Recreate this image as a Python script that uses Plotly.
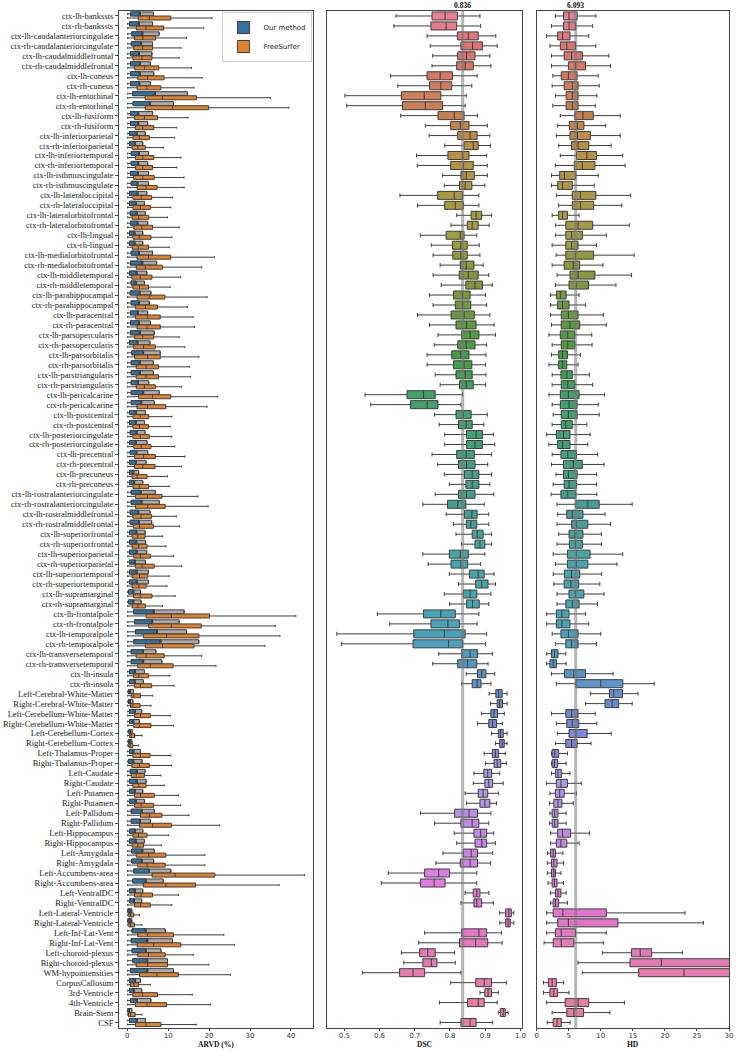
import colorsys
import plotly.graph_objects as go

# ---------------- data ----------------
labels = [
    "ctx-lh-bankssts", "ctx-rh-bankssts", "ctx-lh-caudalanteriorcingulate", "ctx-rh-caudalanteriorcingulate",
    "ctx-lh-caudalmiddlefrontal", "ctx-rh-caudalmiddlefrontal", "ctx-lh-cuneus", "ctx-rh-cuneus",
    "ctx-lh-entorhinal", "ctx-rh-entorhinal", "ctx-lh-fusiform", "ctx-rh-fusiform",
    "ctx-lh-inferiorparietal", "ctx-rh-inferiorparietal", "ctx-lh-inferiortemporal", "ctx-rh-inferiortemporal",
    "ctx-lh-isthmuscingulate", "ctx-rh-isthmuscingulate", "ctx-lh-lateraloccipital", "ctx-rh-lateraloccipital",
    "ctx-lh-lateralorbitofrontal", "ctx-rh-lateralorbitofrontal", "ctx-lh-lingual", "ctx-rh-lingual",
    "ctx-lh-medialorbitofrontal", "ctx-rh-medialorbitofrontal", "ctx-lh-middletemporal", "ctx-rh-middletemporal",
    "ctx-lh-parahippocampal", "ctx-rh-parahippocampal", "ctx-lh-paracentral", "ctx-rh-paracentral",
    "ctx-lh-parsopercularis", "ctx-rh-parsopercularis", "ctx-lh-parsorbitalis", "ctx-rh-parsorbitalis",
    "ctx-lh-parstriangularis", "ctx-rh-parstriangularis", "ctx-lh-pericalcarine", "ctx-rh-pericalcarine",
    "ctx-lh-postcentral", "ctx-rh-postcentral", "ctx-lh-posteriorcingulate", "ctx-rh-posteriorcingulate",
    "ctx-lh-precentral", "ctx-rh-precentral", "ctx-lh-precuneus", "ctx-rh-precuneus",
    "ctx-lh-rostralanteriorcingulate", "ctx-rh-rostralanteriorcingulate", "ctx-lh-rostralmiddlefrontal", "ctx-rh-rostralmiddlefrontal",
    "ctx-lh-superiorfrontal", "ctx-rh-superiorfrontal", "ctx-lh-superiorparietal", "ctx-rh-superiorparietal",
    "ctx-lh-superiortemporal", "ctx-rh-superiortemporal", "ctx-lh-supramarginal", "ctx-rh-supramarginal",
    "ctx-lh-frontalpole", "ctx-rh-frontalpole", "ctx-lh-temporalpole", "ctx-rh-temporalpole",
    "ctx-lh-transversetemporal", "ctx-rh-transversetemporal", "ctx-lh-insula", "ctx-rh-insula",
    "Left-Cerebral-White-Matter", "Right-Cerebral-White-Matter", "Left-Cerebellum-White-Matter", "Right-Cerebellum-White-Matter",
    "Left-Cerebellum-Cortex", "Right-Cerebellum-Cortex", "Left-Thalamus-Proper", "Right-Thalamus-Proper",
    "Left-Caudate", "Right-Caudate", "Left-Putamen", "Right-Putamen",
    "Left-Pallidum", "Right-Pallidum", "Left-Hippocampus", "Right-Hippocampus",
    "Left-Amygdala", "Right-Amygdala", "Left-Accumbens-area", "Right-Accumbens-area",
    "Left-VentralDC", "Right-VentralDC", "Left-Lateral-Ventricle", "Right-Lateral-Ventricle",
    "Left-Inf-Lat-Vent", "Right-Inf-Lat-Vent", "Left-choroid-plexus", "Right-choroid-plexus",
    "WM-hypointensities", "CorpusCallosum", "3rd-Ventricle", "4th-Ventricle",
    "Brain-Stem", "CSF",
]

# ARVD (%) - Our method (blue part q1..split, grey part split..q3)
ours_q1 = [0.8,0.56,1.1,1.0,0.8,0.8,0.8,0.8,1.3,1.45,
           0.8,0.8,0.56,0.56,0.97,0.97,0.8,0.97,0.56,0.56,
           0.73,0.8,0.56,0.56,0.97,0.8,0.56,0.97,0.73,0.97,
           0.8,0.8,0.8,0.56,1.13,0.97,0.97,0.97,0.97,0.97,
           0.56,0.56,0.73,0.56,0.73,0.56,0.56,0.56,0.97,0.97,
           0.73,0.73,0.56,0.56,0.56,0.56,0.56,0.56,0.3,0.3,
           1.53,1.78,2.0,1.6,0.97,0.97,0.56,0.56,0.3,0.3,
           0.56,0.56,0.4,0.3,0.56,0.3,0.73,0.56,0.56,0.56,
           0.97,0.97,0.56,0.56,1.13,1.13,1.6,1.37,0.56,0.56,
           0.16,0.16,1.2,0.97,1.2,1.37,0.8,0.56,0.56,0.8,
           0.16,0.56]
ours_split = [3.2,3.0,3.8,3.5,3.0,3.2,3.2,3.05,6.9,5.65,
              2.8,2.8,2.4,2.0,3.0,2.8,2.7,2.6,2.6,2.2,
              2.4,2.6,1.9,1.9,3.0,3.8,2.4,2.2,3.15,3.0,
              2.7,3.0,3.2,2.6,4.0,3.2,3.2,2.7,4.0,3.55,
              2.2,2.2,2.4,2.2,2.34,2.2,1.6,1.8,3.4,3.6,
              2.8,3.0,2.34,2.34,2.4,2.0,2.4,2.4,1.6,1.6,
              6.6,6.2,7.4,8.23,3.95,4.0,2.0,1.94,0.8,0.8,
              1.94,1.6,0.8,0.73,1.6,1.6,2.42,2.42,2.0,2.18,
              3.63,3.23,2.0,2.18,3.8,3.63,5.4,4.6,2.0,1.78,
              0.73,0.73,4.6,5.0,4.6,5.0,5.0,2.0,1.78,2.42,
              0.56,2.42]
ours_q3 = [6.4,6.2,7.8,6.2,6.05,5.65,6.5,5.65,14.7,11.3,
           6.2,5.0,4.4,3.8,5.2,5.0,5.2,5.2,4.8,4.2,
           4.4,5.0,3.8,3.8,6.2,7.2,4.8,4.2,5.8,5.4,
           5.0,5.65,6.6,5.57,8.07,6.38,6.38,5.25,7.83,6.6,
           4.44,4.2,4.36,4.84,5.0,4.6,2.8,3.8,6.86,7.83,
           5.57,5.97,4.36,4.44,4.76,4.44,5.17,5.17,3.23,3.39,
           13.9,12.67,14.5,17.5,7.0,8.47,4.2,3.95,1.53,1.37,
           3.55,2.97,1.2,1.13,3.23,3.63,4.36,4.6,3.8,4.2,
           6.6,5.65,3.8,4.2,6.6,6.46,10.65,8.8,3.8,3.55,
           1.13,1.13,9.28,11.06,8.23,9.85,11.3,3.23,3.55,5.8,
           1.13,4.44]

# ARVD (%) - FreeSurfer
fs_q1 = [2.7,2.2,1.8,1.6,1.4,1.8,2.6,2.4,4.4,4.4,
         1.8,2.0,1.4,1.2,2.0,2.0,1.6,2.4,1.4,1.4,
         1.2,1.6,1.4,1.2,2.4,2.2,1.13,1.4,2.4,2.0,
         2.0,2.4,1.8,1.6,1.8,2.2,2.2,2.2,2.8,2.4,
         1.4,1.4,1.4,1.6,1.8,1.8,1.2,1.4,2.0,2.0,
         1.4,1.5,1.2,1.2,1.6,2.0,1.2,1.2,1.6,1.2,
         4.6,5.25,3.95,4.44,2.18,2.58,1.53,1.78,0.97,0.8,
         1.78,1.6,0.56,0.4,1.37,1.13,0.97,1.37,1.78,1.78,
         3.23,3.0,1.37,1.2,2.18,2.58,6.05,3.95,1.78,1.78,
         0.4,0.4,2.58,2.42,2.58,2.18,3.0,0.8,1.37,2.0,
         0.3,2.0]
fs_med = [5.4,4.6,3.8,3.8,3.6,4.2,5.0,4.8,8.6,11.1,
          4.2,3.8,3.0,2.6,3.8,3.8,3.8,4.6,3.4,3.2,
          2.8,3.55,2.9,2.7,5.2,4.4,3.2,3.0,5.4,4.44,
          5.0,4.84,3.8,4.0,5.0,4.6,4.6,4.2,6.2,5.0,
          3.2,3.0,3.2,3.4,4.0,3.8,2.4,3.0,5.0,5.0,
          3.4,3.0,2.6,2.8,3.2,3.6,3.0,2.8,3.2,2.6,
          10.8,10.8,9.6,8.64,4.6,5.65,2.82,3.23,1.6,1.37,
          3.23,3.0,0.97,0.73,3.23,3.0,2.18,2.82,3.23,3.39,
          5.4,6.2,2.74,2.58,5.25,4.84,11.7,9.44,3.39,3.23,
          0.8,0.8,5.0,6.46,5.17,5.0,7.26,1.6,3.8,4.84,
          0.8,4.6]
fs_q3 = [10.65,8.9,6.9,6.2,6.05,7.7,9.0,8.2,16.9,19.9,
         7.4,6.5,5.4,4.4,6.5,6.2,6.6,7.3,5.97,5.65,
         5.25,6.2,5.8,5.2,10.65,8.6,6.05,5.2,9.2,7.4,
         8.07,8.07,6.46,6.86,8.07,7.67,7.67,6.86,10.65,9.44,
         5.25,5.17,5.4,5.8,6.86,6.8,4.84,5.25,8.47,9.28,
         5.97,6.4,4.36,4.84,5.65,6.6,5.0,4.6,6.05,4.44,
         20.1,18.08,17.5,16.3,9.04,11.2,5.25,5.97,3.23,3.15,
         5.65,5.8,1.78,1.37,5.57,5.4,4.2,4.6,6.6,6.46,
         8.47,10.8,4.84,4.0,9.44,9.28,21.4,16.7,6.2,5.65,
         1.6,1.78,11.3,13.07,9.28,9.85,12.5,2.74,7.4,9.6,
         1.94,8.23]
fs_hi = [20.7,18.7,14.5,13.1,12.7,15.7,18.3,16.3,35.0,39.5,
         14.85,12.1,11.6,8.9,13.1,12.1,13.9,13.9,11.06,10.65,
         9.85,12.7,10.9,10.25,21.3,18.2,13.07,10.5,19.5,14.7,
         16.1,16.46,12.67,14.04,17.5,15.17,15.5,13.3,22.1,19.5,
         10.9,10.5,10.9,11.6,14.1,13.3,9.85,10.25,17.27,19.77,
         12.0,12.8,8.64,9.44,11.3,13.3,10.25,9.7,11.7,8.64,
         41.2,36.2,37.3,33.66,18.16,21.7,10.4,11.46,6.2,5.8,
         10.5,11.3,3.6,2.74,10.65,10.8,8.23,9.04,12.5,13.07,
         15.1,22.6,10.1,8.4,18.97,18.97,43.3,37.1,12.5,10.9,
         3.0,3.6,23.6,26.2,16.14,19.94,25.2,5.65,15.9,20.3,
         3.6,16.87]
ARVD_MIN = 0.1

# DSC
dsc_lo = [0.647,0.641,0.735,0.744,0.751,0.749,0.631,0.652,0.502,0.507,
          0.660,0.730,0.741,0.785,0.705,0.707,0.779,0.784,0.658,0.708,
          0.819,0.803,0.716,0.747,0.752,0.772,0.752,0.775,0.742,0.752,
          0.708,0.742,0.766,0.755,0.735,0.735,0.758,0.772,0.559,0.575,
          0.756,0.769,0.785,0.785,0.749,0.765,0.784,0.798,0.758,0.723,
          0.789,0.810,0.817,0.833,0.723,0.738,0.798,0.824,0.784,0.799,
          0.594,0.629,0.479,0.492,0.768,0.751,0.846,0.833,0.911,0.915,
          0.890,0.878,0.918,0.929,0.897,0.901,0.868,0.866,0.843,0.847,
          0.716,0.756,0.812,0.819,0.780,0.760,0.625,0.605,0.843,0.831,
          0.941,0.941,0.728,0.711,0.662,0.669,0.552,0.802,0.885,0.770,
          0.937,0.772]
dsc_q1 = [0.749,0.746,0.821,0.831,0.822,0.819,0.735,0.742,0.662,0.665,
          0.766,0.802,0.822,0.840,0.794,0.802,0.831,0.827,0.765,0.785,
          0.860,0.849,0.789,0.807,0.808,0.829,0.826,0.845,0.810,0.815,
          0.803,0.817,0.833,0.822,0.805,0.810,0.817,0.827,0.678,0.688,
          0.817,0.824,0.847,0.847,0.819,0.824,0.841,0.845,0.824,0.793,
          0.841,0.846,0.863,0.871,0.798,0.803,0.855,0.873,0.838,0.847,
          0.725,0.746,0.697,0.695,0.833,0.822,0.878,0.863,0.930,0.934,
          0.916,0.910,0.937,0.941,0.920,0.925,0.896,0.899,0.880,0.885,
          0.813,0.831,0.868,0.871,0.838,0.829,0.728,0.716,0.866,0.868,
          0.958,0.958,0.833,0.827,0.714,0.723,0.657,0.873,0.899,0.850,
          0.943,0.831]
dsc_med = [0.786,0.789,0.852,0.864,0.847,0.843,0.772,0.774,0.727,0.730,
           0.812,0.829,0.857,0.866,0.836,0.838,0.846,0.843,0.812,0.815,
           0.874,0.863,0.829,0.831,0.831,0.846,0.852,0.871,0.836,0.836,
           0.840,0.847,0.857,0.846,0.831,0.840,0.843,0.846,0.725,0.735,
           0.838,0.846,0.874,0.871,0.846,0.847,0.863,0.863,0.847,0.822,
           0.862,0.859,0.877,0.885,0.829,0.831,0.880,0.890,0.857,0.864,
           0.774,0.794,0.784,0.796,0.857,0.850,0.890,0.877,0.938,0.941,
           0.925,0.921,0.943,0.948,0.929,0.934,0.907,0.910,0.894,0.899,
           0.854,0.863,0.887,0.890,0.860,0.857,0.768,0.755,0.876,0.876,
           0.967,0.965,0.882,0.873,0.737,0.747,0.695,0.897,0.908,0.880,
           0.951,0.857]
dsc_q3 = [0.821,0.819,0.880,0.892,0.871,0.866,0.807,0.805,0.774,0.779,
          0.840,0.854,0.877,0.880,0.854,0.866,0.869,0.862,0.836,0.838,
          0.890,0.880,0.840,0.849,0.849,0.868,0.880,0.892,0.857,0.859,
          0.869,0.874,0.882,0.871,0.854,0.862,0.863,0.866,0.758,0.766,
          0.860,0.863,0.892,0.892,0.869,0.871,0.882,0.882,0.871,0.845,
          0.877,0.876,0.894,0.899,0.852,0.850,0.897,0.908,0.876,0.883,
          0.815,0.827,0.843,0.836,0.878,0.876,0.902,0.888,0.948,0.949,
          0.935,0.932,0.951,0.954,0.938,0.944,0.918,0.921,0.907,0.913,
          0.878,0.882,0.904,0.904,0.878,0.878,0.799,0.786,0.885,0.890,
          0.974,0.971,0.904,0.907,0.758,0.763,0.728,0.918,0.918,0.897,
          0.957,0.874]
dsc_hi = [0.885,0.887,0.930,0.934,0.913,0.916,0.877,0.862,0.846,0.843,
          0.878,0.906,0.913,0.915,0.904,0.906,0.906,0.899,0.882,0.882,
          0.918,0.911,0.876,0.883,0.885,0.894,0.910,0.920,0.901,0.904,
          0.913,0.925,0.929,0.904,0.902,0.901,0.902,0.901,0.836,0.831,
          0.906,0.896,0.923,0.927,0.918,0.907,0.918,0.913,0.924,0.897,
          0.910,0.910,0.918,0.918,0.899,0.887,0.925,0.929,0.916,0.910,
          0.882,0.877,0.904,0.901,0.921,0.908,0.927,0.916,0.962,0.962,
          0.954,0.949,0.962,0.962,0.957,0.960,0.941,0.951,0.938,0.932,
          0.916,0.910,0.924,0.929,0.921,0.915,0.876,0.876,0.910,0.923,
          0.981,0.981,0.946,0.948,0.813,0.815,0.831,0.960,0.937,0.934,
          0.965,0.921]
DSC_MEAN = 0.836

# HD
hd_lo = [2.93,2.32,1.52,2.07,2.32,2.32,2.53,2.42,2.93,2.53,
         3.69,3.28,3.08,3.43,3.69,2.93,2.32,2.32,3.08,3.43,
         2.42,2.93,2.93,2.42,3.03,2.42,3.18,2.93,2.17,2.17,
         2.17,2.32,1.92,2.42,2.32,1.92,2.42,2.42,1.92,2.42,
         2.58,2.42,1.57,1.92,2.42,2.32,3.03,2.58,2.27,3.18,
         3.28,3.18,3.43,3.18,2.58,2.93,2.58,2.68,3.18,3.18,
         1.57,1.57,2.42,2.93,1.57,1.57,2.32,3.08,8.38,7.63,
         2.32,3.08,3.28,2.93,2.32,2.32,2.32,1.52,2.07,2.02,
         2.07,2.02,2.17,2.17,1.67,1.67,1.67,1.77,2.17,2.17,
         1.57,1.57,1.57,1.16,10.25,6.46,7.12,1.06,1.06,1.52,
         2.42,1.67]
hd_q1 = [4.19,4.19,3.28,3.69,4.29,4.95,3.84,4.29,4.6,4.6,
         5.96,5.1,5.2,5.45,6.21,5.86,3.59,3.28,5.56,5.56,
         3.43,4.55,4.55,4.55,4.55,4.29,5.2,5.05,3.08,3.28,
         3.84,3.84,3.69,3.84,3.43,3.43,3.79,3.84,3.69,3.69,
         3.84,3.84,3.08,3.28,3.79,4.19,4.19,4.29,3.79,6.11,
         4.7,5.45,5.05,5.1,4.8,4.8,4.34,4.29,5.05,4.55,
         3.08,3.08,3.79,4.55,2.32,2.07,4.34,6.11,11.36,10.66,
         4.55,4.7,5.05,4.55,2.42,2.42,2.93,3.08,2.93,2.68,
         2.42,2.42,3.28,3.08,2.17,2.32,2.32,2.42,2.93,2.58,
         2.58,3.28,2.93,2.58,14.8,14.55,15.9,1.82,2.07,4.44,
         4.7,2.58]
hd_med = [5.05,5.05,4.04,4.7,5.45,6.06,4.95,5.56,5.56,5.56,
          7.22,6.36,6.36,6.46,7.83,7.12,4.34,4.04,6.82,6.82,
          4.04,6.46,5.45,5.45,6.06,5.71,6.46,6.21,3.69,4.04,
          4.95,5.2,4.85,4.85,4.04,4.04,4.7,4.85,4.95,5.05,
          4.95,4.55,4.19,4.04,4.85,5.71,4.95,5.05,4.85,7.98,
          5.56,6.21,5.96,6.06,6.21,6.21,5.45,5.35,6.06,5.56,
          3.94,3.94,4.95,5.45,2.78,2.58,5.81,10.0,12.02,11.77,
          5.45,5.56,6.11,5.45,2.83,2.78,3.33,3.79,3.59,3.33,
          2.83,2.83,4.04,3.79,2.58,2.68,2.68,2.78,3.33,2.93,
          4.09,4.95,3.84,3.84,16.16,19.44,22.98,2.42,2.68,6.46,
          5.81,3.18]
hd_q3 = [6.31,6.11,5.2,6.06,7.12,7.63,6.31,6.46,6.46,6.46,
         8.84,7.37,8.38,8.13,9.34,9.09,6.11,5.56,9.24,8.89,
         4.8,8.74,7.12,6.46,8.89,6.72,9.09,8.08,4.6,5.05,
         6.46,6.72,5.96,5.96,4.8,4.7,5.56,5.96,6.62,6.31,
         6.31,5.56,5.2,5.2,6.21,7.12,6.31,6.21,6.11,9.75,
         7.22,7.98,7.22,7.12,8.33,7.98,6.72,6.57,7.37,6.62,
         5.05,5.2,6.46,6.46,3.33,3.08,7.63,13.43,13.38,12.78,
         6.46,6.57,7.88,6.31,3.43,3.28,3.84,4.8,4.29,3.94,
         3.33,3.33,5.3,4.7,2.93,3.18,2.93,3.18,3.79,3.43,
         10.86,12.68,6.06,5.81,17.93,32.0,33.0,3.08,3.28,8.13,
         7.32,3.84]
hd_hi = [9.24,8.74,8.13,9.24,11.26,11.52,9.6,9.75,9.39,9.14,
         13.03,10.76,13.03,11.62,13.43,13.79,9.6,8.99,14.65,13.28,
         6.62,14.44,10.86,9.34,15.2,10.35,14.8,12.37,6.62,7.63,
         10.4,10.86,8.59,8.64,6.82,6.46,8.23,8.74,10.6,9.6,
         9.75,7.83,8.33,7.98,9.49,10.5,9.34,9.34,9.39,14.9,
         10.66,11.52,10.1,10.1,13.43,12.53,10.15,9.85,10.5,9.49,
         7.63,8.13,10.0,9.34,4.55,4.6,11.92,18.33,15.8,14.9,
         9.14,9.39,11.62,8.48,4.8,4.6,5.2,6.97,6.21,5.71,
         4.6,4.6,8.23,6.62,4.09,4.19,3.79,4.19,4.6,4.8,
         23.13,26.0,10.86,10.4,22.73,45.0,50.0,4.19,5.05,13.69,
         11.41,5.2]
HD_MEAN = 6.093

arvd_ticks = [0, 10, 20, 30, 40]
dsc_ticks = [0.5, 0.6, 0.7, 0.8, 0.9, 1.0]
hd_ticks = [0, 5, 10, 15, 20, 25, 30]

n = len(labels)
for arr in [ours_q1, ours_split, ours_q3, fs_q1, fs_med, fs_q3, fs_hi,
            dsc_lo, dsc_q1, dsc_med, dsc_q3, dsc_hi, hd_lo, hd_q1, hd_med, hd_q3, hd_hi]:
    assert len(arr) == n, len(arr)

# ---------------- styles ----------------
BLUE = "#3274a1"
ORANGE = "#e1812c"
GREY = "#ababab"
EDGE = "#3f3f3f"
SERIF = "Liberation Serif"
SANS = "DejaVu Sans"

# husl-like palette (seaborn husl anchors), desaturated like seaborn boxplots
anchors = ["#f77189", "#ce9032", "#97a431", "#32b166", "#36ada4", "#39a7d0", "#a48cf4", "#f561dd"]


def _hls(hexc):
    r, g, b = (int(hexc[i:i + 2], 16) / 255 for i in (1, 3, 5))
    return colorsys.rgb_to_hls(r, g, b)


def make_palette(count):
    hl = [_hls(c) for c in anchors]
    k_all = len(anchors)
    out = []
    for i in range(count):
        t = i * k_all / count
        k = int(t)
        f = t - k
        h0, l0, s0 = hl[k % k_all]
        h1, l1, s1 = hl[(k + 1) % k_all]
        dh = ((h1 - h0 + 0.5) % 1.0) - 0.5
        h = (h0 + f * dh) % 1.0
        l = l0 + f * (l1 - l0)
        s = (s0 + f * (s1 - s0)) * 0.75
        r, g, b = colorsys.hls_to_rgb(h, l, s)
        out.append("rgb(%d,%d,%d)" % (round(r * 255), round(g * 255), round(b * 255)))
    return out


colors = make_palette(n)

fig = go.Figure()

# ---- ARVD panel ----
fig.add_trace(go.Box(
    y=labels, q1=ours_q1, median=ours_split, q3=ours_q3,
    lowerfence=[ARVD_MIN] * n, upperfence=ours_q3,
    orientation="h", offsetgroup="ours", name="Our method (range)",
    fillcolor=GREY, line=dict(color=EDGE, width=1), whiskerwidth=0.5,
    showlegend=False, xaxis="x", yaxis="y", hoverinfo="skip"))
fig.add_trace(go.Box(
    y=labels, q1=ours_q1, median=ours_split, q3=ours_split,
    lowerfence=ours_q1, upperfence=ours_split,
    orientation="h", offsetgroup="ours", name="Our method",
    fillcolor=BLUE, line=dict(color=EDGE, width=1), whiskerwidth=0,
    showlegend=True, xaxis="x", yaxis="y"))
fig.add_trace(go.Box(
    y=labels, q1=fs_q1, median=fs_med, q3=fs_q3,
    lowerfence=[ARVD_MIN] * n, upperfence=fs_hi,
    orientation="h", offsetgroup="fs", name="FreeSurfer",
    fillcolor=ORANGE, line=dict(color=EDGE, width=1), whiskerwidth=0.5,
    showlegend=True, xaxis="x", yaxis="y"))

# ---- DSC and HD panels ----
for i in range(n):
    fig.add_trace(go.Box(
        y=[labels[i]], q1=[dsc_q1[i]], median=[dsc_med[i]], q3=[dsc_q3[i]],
        lowerfence=[dsc_lo[i]], upperfence=[dsc_hi[i]],
        orientation="h", offsetgroup="dsc", name=labels[i],
        fillcolor=colors[i], line=dict(color=EDGE, width=1), whiskerwidth=0.5,
        showlegend=False, xaxis="x2", yaxis="y2"))
    fig.add_trace(go.Box(
        y=[labels[i]], q1=[hd_q1[i]], median=[hd_med[i]], q3=[hd_q3[i]],
        lowerfence=[hd_lo[i]], upperfence=[hd_hi[i]],
        orientation="h", offsetgroup="hd", name=labels[i],
        fillcolor=colors[i], line=dict(color=EDGE, width=1), whiskerwidth=0.5,
        showlegend=False, xaxis="x3", yaxis="y3"))

W, H = 740, 1050


def px_x(page_x):
    return page_x / W


def px_y(page_y):
    return 1 - page_y / H


ydom = [px_y(1027.5), px_y(11)]
dom1 = [px_x(118), px_x(314)]
dom2 = [px_x(328), px_x(524.5)]
dom3 = [px_x(539), px_x(733)]

tickfont = dict(family=SANS, size=7, color="#333333")
common_x = dict(showline=True, mirror=True, linecolor="#444444", linewidth=0.9,
                showgrid=False, zeroline=False, ticks="outside", ticklen=3,
                tickwidth=0.8, tickcolor="#444444", tickfont=tickfont,
                ticklabelstandoff=-2)
yrange = [n - 0.5, -0.5]
common_y = dict(showline=True, mirror=True, linecolor="#444444", linewidth=0.9,
                showgrid=False, zeroline=False, type="category",
                categoryorder="array", categoryarray=labels, range=yrange,
                domain=ydom, tickmode="array", tickvals=labels, ticktext=labels)

fig.update_layout(
    width=W, height=H, margin=dict(l=0, r=0, t=0, b=0),
    paper_bgcolor="white", plot_bgcolor="white",
    boxmode="group", boxgap=0.18, boxgroupgap=0.02,
    xaxis=dict(domain=dom1, range=[-2, 45.5], tickvals=arvd_ticks, anchor="y", **common_x),
    xaxis2=dict(domain=dom2, range=[0.452, 1.005], tickvals=dsc_ticks,
                ticktext=["%.1f" % v for v in dsc_ticks], anchor="y2", **common_x),
    xaxis3=dict(domain=dom3, range=[0, 30], tickvals=hd_ticks, anchor="y3", **common_x),
    yaxis=dict(anchor="x", ticks="outside", ticklen=3, tickwidth=0.8, tickcolor="#444444",
               tickfont=dict(family=SERIF, size=8.5, color="#1a1a1a"), **common_y),
    yaxis2=dict(anchor="x2", showticklabels=False, ticks="", **common_y),
    yaxis3=dict(anchor="x3", showticklabels=False, ticks="", **common_y),
    legend=dict(x=px_x(313), xanchor="right", y=px_y(12), yanchor="top",
                bgcolor="rgba(255,255,255,0.85)", bordercolor="#cccccc", borderwidth=1,
                font=dict(family=SANS, size=7, color="#222222"), tracegroupgap=0,
                itemwidth=30),
    font=dict(family=SANS, color="#222222"),
)

# mean reference lines
fig.add_shape(type="line", xref="x2", yref="y2 domain", x0=DSC_MEAN, x1=DSC_MEAN, y0=0, y1=1,
              line=dict(color="rgba(120,120,120,0.55)", width=3), layer="above")
fig.add_shape(type="line", xref="x3", yref="y3 domain", x0=HD_MEAN, x1=HD_MEAN, y0=0, y1=1,
              line=dict(color="rgba(120,120,120,0.55)", width=3), layer="above")

# titles above middle/right panels (at mean value)
for ax, val in [("x2", DSC_MEAN), ("x3", HD_MEAN)]:
    fig.add_annotation(x=val, xref=ax, y=1, yref="paper", yanchor="top",
                       text="<b>%.3f</b>" % val, showarrow=False, borderpad=0,
                       font=dict(family=SERIF, size=7.5, color="#111111"))

# axis titles
for ax, txt in [("x", "ARVD (%)"), ("x2", "DSC"), ("x3", "HD")]:
    fig.add_annotation(x=0.5, xref=ax + " domain", y=0, yref="paper",
                       yanchor="bottom", text="<b>%s</b>" % txt, showarrow=False,
                       borderpad=0, font=dict(family=SERIF, size=7.5, color="#111111"))

# remove the page's default body margin so the 740x1050 figure fills the window exactly
fig.write_html("out.html", config={"displayModeBar": False},
               post_script="document.body.style.margin='0px';")
